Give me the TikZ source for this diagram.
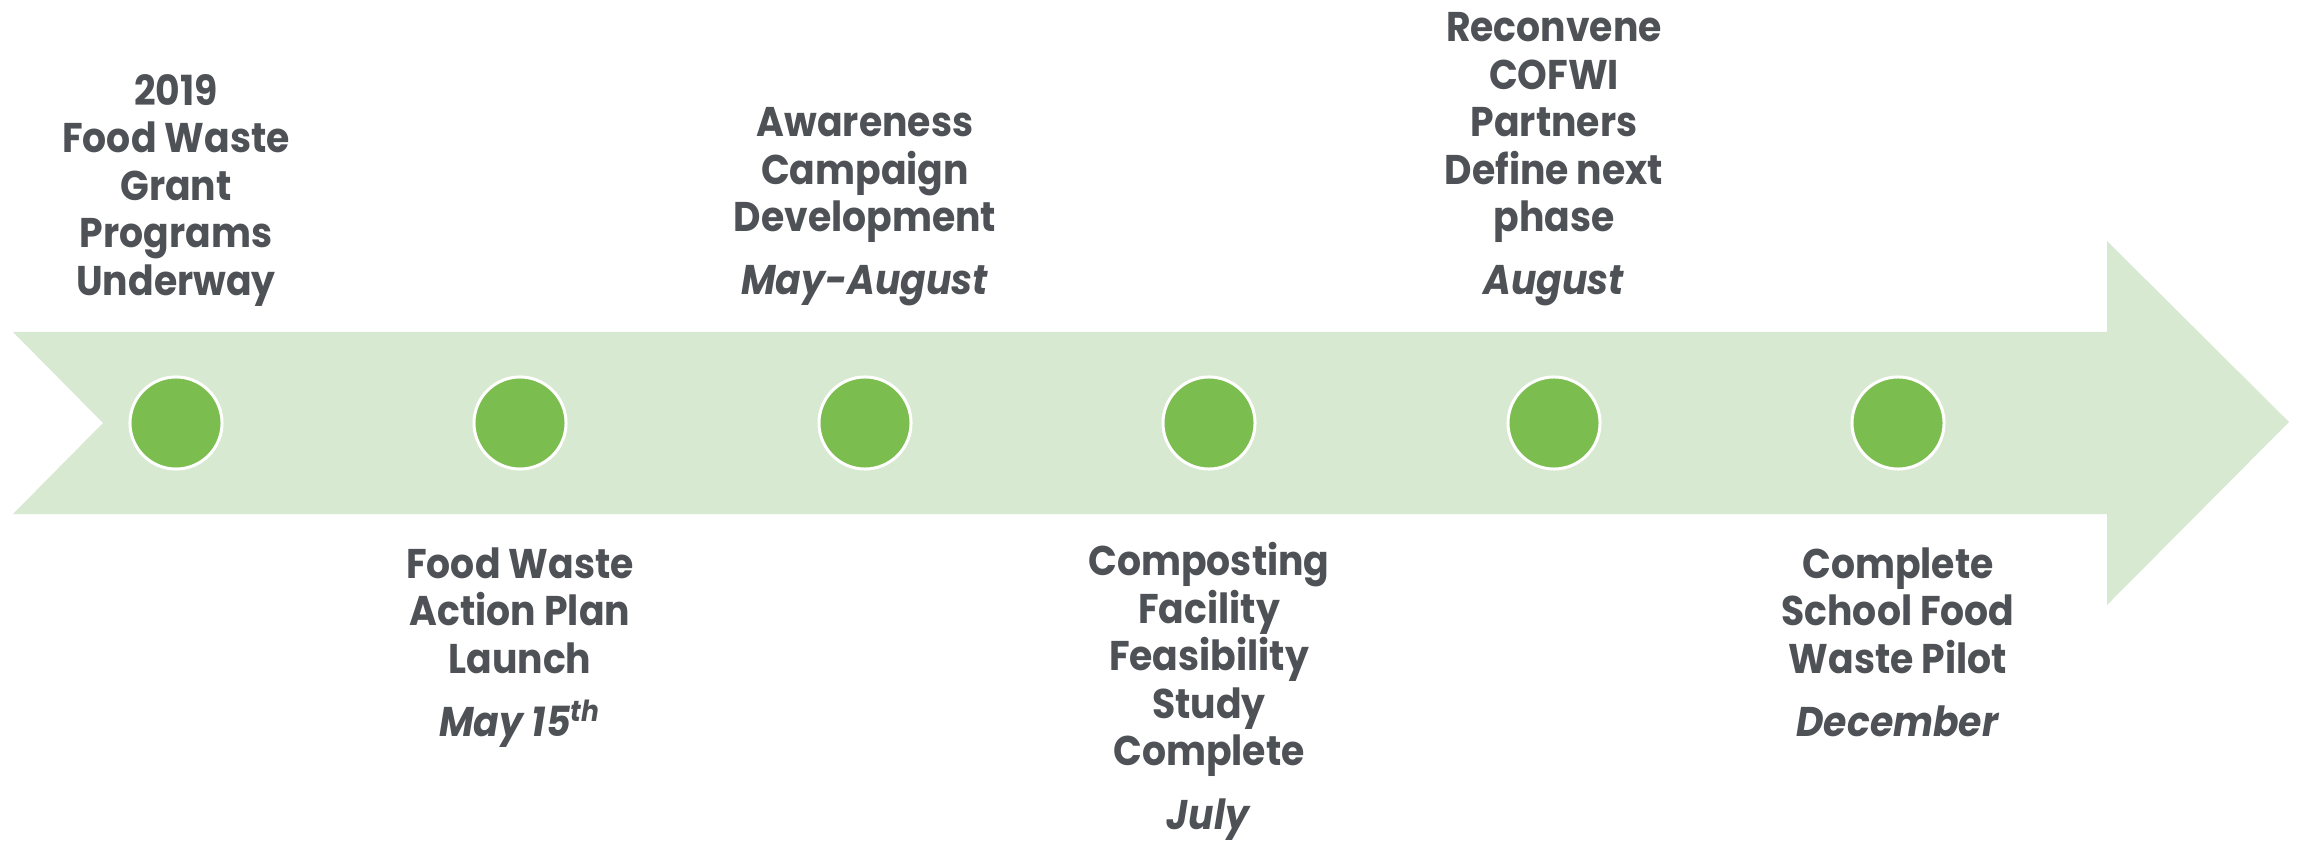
\documentclass[tikz,border=0pt]{standalone}
\usepackage{fontspec}
\setmainfont{Poppins}[FakeStretch=0.91]
\definecolor{band}{HTML}{D8E9D2}
\definecolor{dot}{HTML}{7CBD4F}
\definecolor{txt}{HTML}{4E5156}
\tikzset{
  lbl/.style={text=txt, align=center, inner sep=0pt, font=\fontsize{11.8}{13.5}\selectfont\bfseries},
  dotc/.style={circle, fill=dot, draw=white, line width=0.03cm, minimum size=0.92cm, inner sep=0pt},
}
\newcommand{\datel}[1]{\\[4.5pt]\textit{#1}}
\begin{document}
\begin{tikzpicture}[x=0.01cm, y=-0.01cm]
\useasboundingbox (0,0) rectangle (2300,843);
\fill[band] (13,332) -- (2107,332) -- (2107,241) -- (2289,422) -- (2107,605) -- (2107,514) -- (13,514) -- (103,423) -- cycle;
\foreach \i/\x in {1/176,2/520,3/865,4/1209,5/1554,6/1898}
  \node[dotc] (d\i) at (\x,423) {};
\node[lbl, anchor=south] (t1) at (176,307) {2019\\Food Waste\\Grant\\Programs\\Underway};
\node[lbl, anchor=south] (t3) at (865,307) {Awareness\\Campaign\\Development\datel{May-August}};
\node[lbl, anchor=south] (t5) at (1554,307) {Reconvene\\COFWI\\Partners\\Define next\\phase\datel{August}};
\node[lbl, anchor=north] (b2) at (520,547) {Food Waste\\Action Plan\\Launch\datel{May 15\textsuperscript{th}}};
\node[lbl, anchor=north] (b4) at (1209,542) {Composting\\Facility\\Feasibility\\Study\\Complete\datel{July}};
\node[lbl, anchor=north] (b6) at (1898,547) {Complete\\School Food\\Waste Pilot\datel{December}};
\end{tikzpicture}
\end{document}
